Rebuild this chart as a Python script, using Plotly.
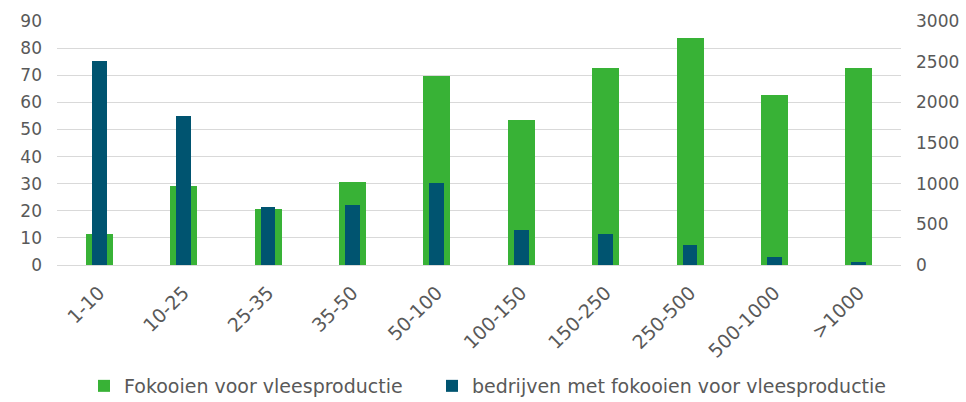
import plotly.graph_objects as go

categories = ["1-10", "10-25", "25-35", "35-50", "50-100", "100-150", "150-250", "250-500", "500-1000", ">1000"]
fokooien = [11.3, 29.1, 20.7, 30.7, 69.8, 53.4, 72.8, 83.8, 62.7, 72.8]
bedrijven = [2505, 1832, 713, 742, 1004, 430, 377, 246, 94, 37]

green = "#38b236"
blue = "#005470"
grid = "#d9d9d9"
txt = "#595959"
font = "DejaVu Sans"

W, H = 966, 402
ML, MR, MT, MB = 57, 65, 21, 137

fig = go.Figure()
fig.add_trace(go.Bar(x=categories, y=fokooien, name="Fokooien voor vleesproductie",
                     marker=dict(color=green, line=dict(width=0)), width=0.32, yaxis="y",
                     legend="legend", showlegend=True))
fig.add_trace(go.Bar(x=categories, y=bedrijven, name="bedrijven met fokooien voor vleesproductie",
                     marker=dict(color=blue, line=dict(width=0)), width=0.175, yaxis="y2",
                     legend="legend2", showlegend=True))

leg_common = dict(orientation="h", xanchor="left", yanchor="middle",
                  xref="container", yref="container", y=1 - 386 / H,
                  font=dict(size=19, color=txt), itemwidth=30, bgcolor="rgba(0,0,0,0)")

fig.update_layout(
    width=W, height=H,
    margin=dict(l=ML, r=MR, t=MT, b=MB, autoexpand=False),
    paper_bgcolor="white", plot_bgcolor="white",
    barmode="overlay",
    showlegend=True,
    font=dict(family=font, color=txt, size=17),
    xaxis=dict(tickangle=-45, tickfont=dict(size=19, color=txt), showgrid=False,
               showline=False, ticks="", automargin=False, ticklabelstandoff=12),
    yaxis=dict(range=[0, 90], dtick=10, showgrid=True, gridcolor=grid, gridwidth=1.3,
               zeroline=True, zerolinecolor=grid, zerolinewidth=1.3, automargin=False,
               tickfont=dict(size=17, color=txt), ticklabelstandoff=14),
    yaxis2=dict(range=[0, 3000], dtick=500, overlaying="y", side="right", showgrid=False,
                zeroline=False, automargin=False,
                tickfont=dict(size=17, color=txt), ticklabelstandoff=14),
    legend=dict(leg_common, x=84 / W),
    legend2=dict(leg_common, x=432 / W),
    bargap=0,
)

fig.write_html("out.html", config={"displayModeBar": False},
               post_script="document.body.style.margin='0';document.body.style.overflow='hidden';")
